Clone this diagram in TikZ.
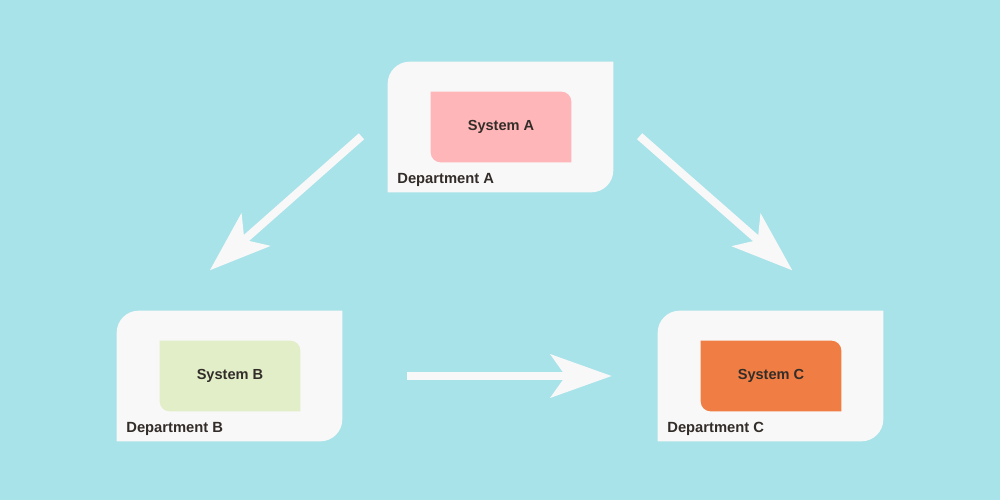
\documentclass[tikz,border=0pt]{standalone}
\usepackage{fontspec}
\setmainfont{Liberation Sans}
\usepackage{tikz}
\usetikzlibrary{arrows.meta, positioning, backgrounds}

\definecolor{bgcyan}{HTML}{A8E3E9}
\definecolor{deptgray}{HTML}{F8F8F8}
\definecolor{syspink}{HTML}{FFB6B9}
\definecolor{sysgreen}{HTML}{E1EEC8}
\definecolor{sysorange}{HTML}{F07E44}
\definecolor{inkdark}{HTML}{332D29}

\begin{document}
\begin{tikzpicture}[
  x=0.02cm, y=-0.02cm,
  dept/.style={rectangle, minimum width=4.5cm, minimum height=2.6cm, inner sep=0pt},
  sys/.style={rectangle, minimum width=2.8cm, minimum height=1.4cm, inner sep=0pt, text=inkdark, font=\bfseries\fontsize{8.3}{10}\selectfont},
  lbl/.style={anchor=base west, inner sep=0pt, text=inkdark, font=\bfseries\fontsize{8.4}{10}\selectfont},
  flow/.style={draw=deptgray, line width=0.16cm, -{Stealth[length=1.22cm, width=0.86cm, inset=0.3cm]}}
]

\node[dept] (deptA) at (500.5, 127) {};
\node[dept] (deptB) at (229.5, 376) {};
\node[dept] (deptC) at (770.5, 376) {};

\node[sys] (sysA) at (501, 127) {System A};
\node[sys] (sysB) at (230, 376) {System B};
\node[sys] (sysC) at (771, 376) {System C};

\node[lbl] (labA) at (397, 183.5) {Department A};
\node[lbl] (labB) at (126, 432.5) {Department B};
\node[lbl] (labC) at (667, 432.5) {Department C};

\draw[flow, shorten <=0.7cm, shorten >=1.22cm] (deptA.173) -- (deptB.135.5);
\draw[flow, shorten <=0.7cm, shorten >=1.22cm] (deptA.7) -- (deptC.44.5);
\draw[flow, shorten <=1.3cm, shorten >=0.92cm] (deptB) -- (deptC);

\begin{scope}[on background layer]
  \fill[bgcyan] (0, 0) rectangle (1000, 500);
  \foreach \n in {A, B, C}
    \fill[deptgray] (dept\n.south west) [rounded corners=0.44cm] -- (dept\n.north west) [sharp corners] -- (dept\n.north east) [rounded corners=0.44cm] -- (dept\n.south east) [sharp corners] -- cycle;
  \foreach \n/\c in {A/syspink, B/sysgreen, C/sysorange}
    \fill[\c] (sys\n.north west) [rounded corners=0.2cm] -- (sys\n.north east) [sharp corners] -- (sys\n.south east) [rounded corners=0.2cm] -- (sys\n.south west) [sharp corners] -- cycle;
\end{scope}

\end{tikzpicture}
\end{document}
